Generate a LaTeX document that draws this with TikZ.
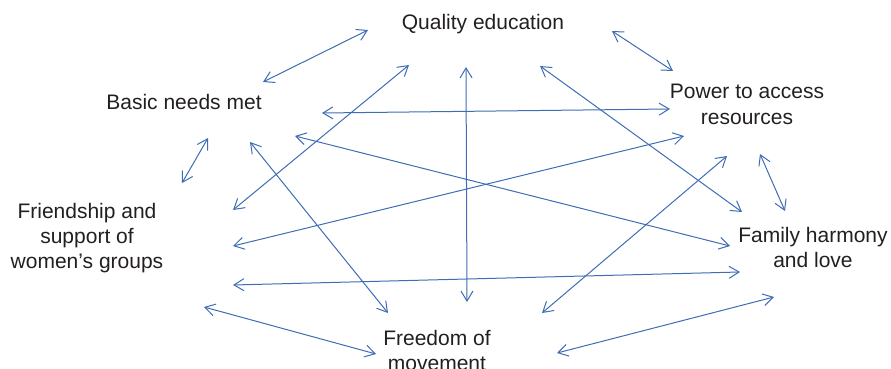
\documentclass[tikz,border=0pt]{standalone}
\usepackage{fontspec}
\setmainfont{Liberation Sans}
\usetikzlibrary{arrows.meta}
\definecolor{linkblue}{RGB}{62,109,180}
\definecolor{labelgray}{RGB}{35,31,32}
\tikzset{
  label/.style={font=\fontsize{21}{25}\selectfont, text=labelgray, align=center, inner sep=0pt, anchor=base},
  link/.style={draw=linkblue, line width=1pt, {Straight Barb[length=10pt,width=12pt]}-{Straight Barb[length=10pt,width=12pt]}}
}
\begin{document}
\begin{tikzpicture}[x=1pt,y=-1pt]
\useasboundingbox (0,0) rectangle (891,369);
% labels (base anchor = baseline of last line)
\node[label] (qual) at (483,30) {Quality education};
\node[label] (basic) at (184,109) {Basic needs met};
\node[label] (power) at (747,124) {Power to access\\resources};
\node[label] (friend) at (87,268) {Friendship and\\support of\\women’s groups};
\node[label] (family) at (813,267) {Family harmony\\and love};
\node[label] (free) at (437,370) {Freedom of\\movement};
% endpoints
\coordinate (a1) at (263,82);  \coordinate (b1) at (368,30);
\coordinate (a2) at (233,210); \coordinate (b2) at (409,65);
\coordinate (a3) at (322,113); \coordinate (b3) at (670,109);
\coordinate (a4) at (295,136); \coordinate (b4) at (730,246);
\coordinate (a5) at (208,138); \coordinate (b5) at (182,183);
\coordinate (a6) at (250,142); \coordinate (b6) at (388,313);
\coordinate (a7) at (612,31);  \coordinate (b7) at (673,71);
\coordinate (a8) at (466,67);  \coordinate (b8) at (467,302);
\coordinate (a9) at (540,66);  \coordinate (b9) at (742,212);
\coordinate (a10) at (684,136); \coordinate (b10) at (233,246);
\coordinate (a11) at (727,156); \coordinate (b11) at (542,313);
\coordinate (a12) at (760,154); \coordinate (b12) at (785,211);
\coordinate (a13) at (233,285); \coordinate (b13) at (740,272);
\coordinate (a14) at (204,307); \coordinate (b14) at (376,354);
\coordinate (a15) at (557,353); \coordinate (b15) at (774,297);
\foreach \i in {1,...,15} { \draw[link] (a\i) -- (b\i); }
\end{tikzpicture}
\end{document}
